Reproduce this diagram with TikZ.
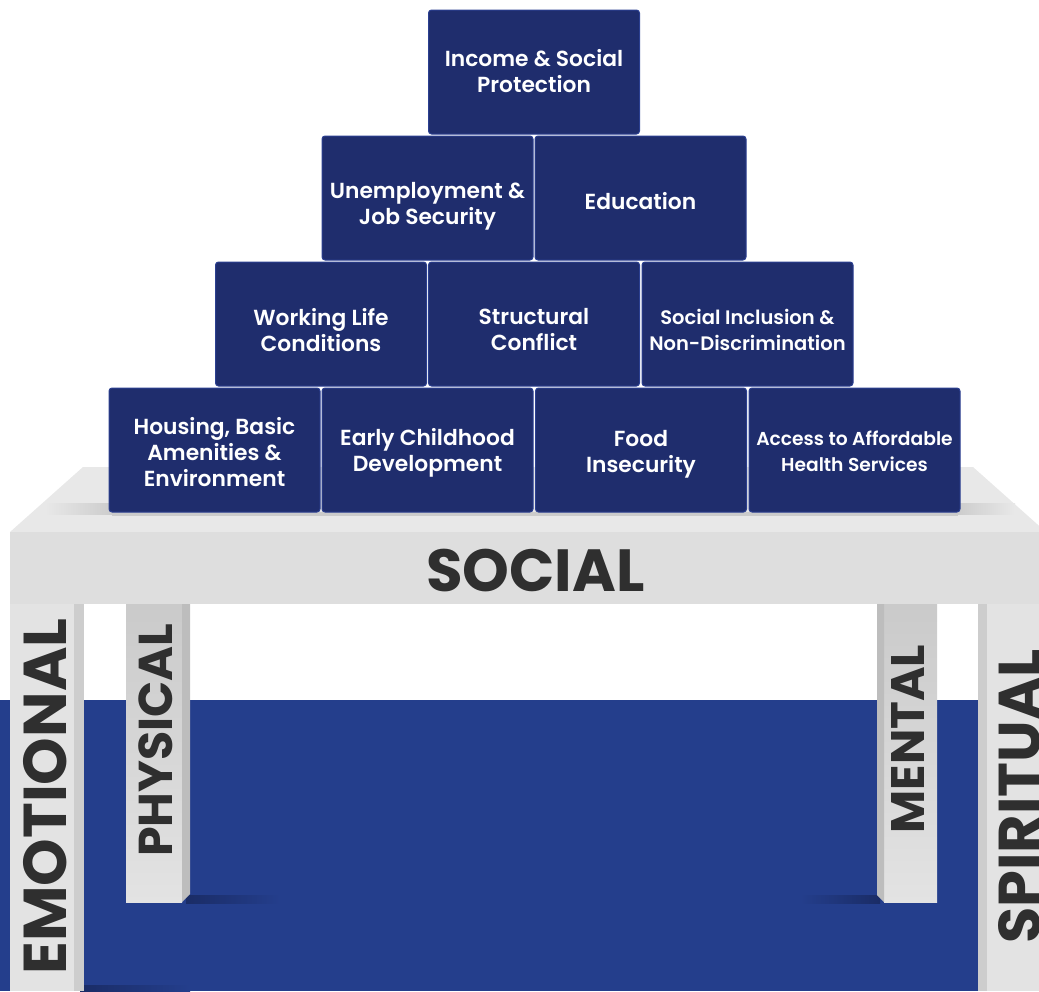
\documentclass[tikz,border=0pt]{standalone}
\usepackage{fontspec}
\setmainfont{Poppins}
\newfontfamily\semib{Poppins SemiBold}

\definecolor{floorblue}{HTML}{243E8C}
\definecolor{floordark}{HTML}{1A2C66}
\definecolor{blockblue}{HTML}{1F2D6D}
\definecolor{blockedge}{HTML}{2B3F90}
\definecolor{tabletop}{HTML}{E8E8E8}
\definecolor{tableshadow}{HTML}{CBCBCB}
\definecolor{tablefront}{HTML}{DEDEDE}
\definecolor{legface}{HTML}{E3E3E3}
\definecolor{legshade}{HTML}{CACACA}
\definecolor{legside}{HTML}{CDCDCD}
\definecolor{ink}{HTML}{2F2F2F}

\tikzset{
  block/.style={rectangle, rounded corners=3pt, minimum width=211pt,
    minimum height=124pt, inner sep=0pt, fill=blockblue, draw=blockedge,
    line width=1pt},
  blocktext/.style={text=white, align=center, inner sep=0pt,
    font=\semib\fontsize{#1}{26}\selectfont},
  blocktext/.default=21.8,
  leglabel/.style={rotate=90, anchor=base, text=ink, inner sep=0pt,
    font=\bfseries\fontsize{#1}{#1}\selectfont}
}

\begin{document}
\begin{tikzpicture}[x=1pt, y=-1pt]
  \useasboundingbox (0,0) rectangle (1039,991);
  \clip (0,0) rectangle (1039,991);

  % floor
  \fill[floorblue] (0,700) rectangle (1039,991);

  % shadows cast by the legs on the floor
  \shade[left color=floordark, right color=floorblue] (186,895) rectangle (280,903);
  \shade[left color=floorblue, right color=floordark] (800,895) rectangle (880,903);
  \shade[left color=floordark, right color=floorblue] (80,985) rectangle (190,991);

  % table top and front face
  \fill[tabletop] (10,532) -- (83,467) -- (973,467) -- (1046,532) -- cycle;
  \fill[tablefront] (10,532) rectangle (1046,604);

  % soft shadow of the block stack on the table top
  \shade[left color=tabletop, right color=tableshadow] (45,503) rectangle (115,514);
  \shade[left color=tableshadow, right color=tabletop] (955,503) rectangle (1015,514);
  \fill[tableshadow] (112,512) rectangle (958,516);

  % legs
  \fill[legface] (10,604) rectangle (74,991);
  \fill[legside] (74,604) rectangle (84,991);

  \shade[top color=legshade, bottom color=legface] (126,604) rectangle (182,902);
  \fill[legside!92!black] (182,604) -- (190,604) -- (190,894) -- (182,902) -- cycle;

  \shade[top color=legshade, bottom color=legface] (884,604) rectangle (937,902);
  \fill[legside!92!black] (877,604) -- (884,604) -- (884,902) -- (877,895) -- cycle;

  \fill[legside] (978,604) rectangle (987,991);
  \fill[legface] (987,604) rectangle (1046,991);

  % labels on the table and legs
  \node[text=ink, anchor=base, inner sep=0pt,
        font=\bfseries\fontsize{59.5}{60}\selectfont] (social) at (535.5,591) {SOCIAL};
  \node[leglabel=60.5] (emotional) at (66,796.5) {EMOTIONAL};
  \node[leglabel=47.5] (physical) at (172,740) {PHYSICAL};
  \node[leglabel=47] (mental) at (924,739) {MENTAL};
  \node[leglabel=59] (spiritual) at (1040,796.5) {SPIRITUAL};

  % block pyramid
  \node[block] (b1)  at (534,72)    {};
  \node[block] (b2)  at (427.5,198) {};
  \node[block] (b3)  at (640.5,198) {};
  \node[block] (b4)  at (321,324)   {};
  \node[block] (b5)  at (534,324)   {};
  \node[block] (b6)  at (747.5,324) {};
  \node[block] (b7)  at (214.5,450) {};
  \node[block] (b8)  at (427.5,450) {};
  \node[block] (b9)  at (641,450)   {};
  \node[block] (b10) at (854.5,450) {};

  % block captions
  \node[blocktext] (t1)  at ([yshift=1pt]b1.center)  {Income \& Social\\Protection};
  \node[blocktext] (t2)  at ([yshift=-8pt]b2.center) {Unemployment \&\\Job Security};
  \node[blocktext] (t3)  at ([yshift=-3pt]b3.center) {Education};
  \node[blocktext] (t4)  at ([yshift=-6pt]b4.center) {Working Life\\Conditions};
  \node[blocktext] (t5)  at ([yshift=-6pt]b5.center) {Structural\\Conflict};
  \node[blocktext=19.5] (t6) at ([yshift=-6pt]b6.center) {Social Inclusion \&\\Non-Discrimination};
  \node[blocktext] (t7)  at ([yshift=-2pt]b7.center) {Housing, Basic\\Amenities \&\\Environment};
  \node[blocktext] (t8)  at ([yshift=-3pt]b8.center) {Early Childhood\\Development};
  \node[blocktext] (t9)  at ([yshift=-4pt]b9.center) {Food\\Insecurity};
  \node[blocktext=18.7] (t10) at ([yshift=-1pt]b10.center) {Access to Affordable\\Health Services};
\end{tikzpicture}
\end{document}
